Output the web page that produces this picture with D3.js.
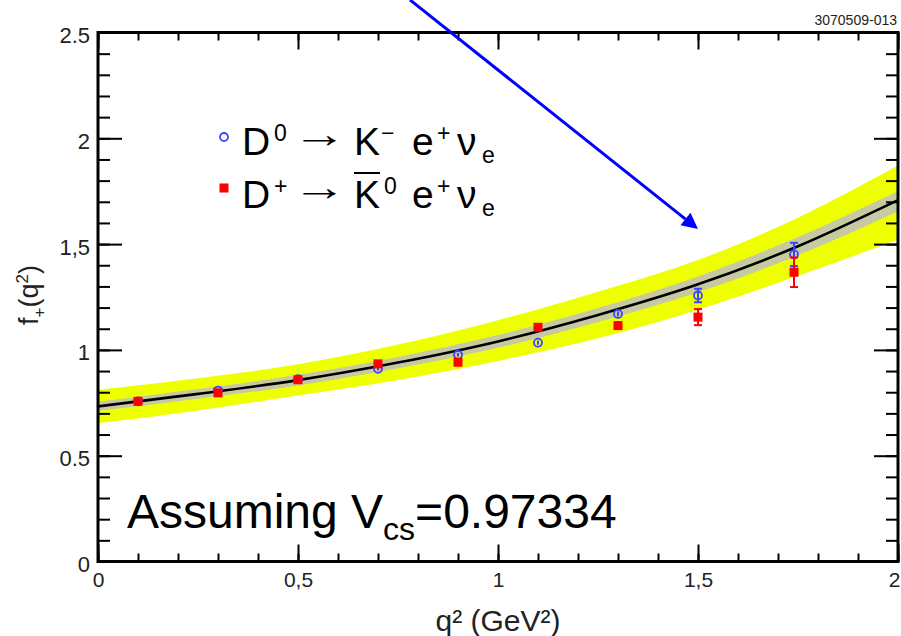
<!DOCTYPE html>
<html><head><meta charset="utf-8">
<script src="https://cdn.jsdelivr.net/npm/d3@7"></script>
<style>
html,body{margin:0;padding:0;background:#fff;}
svg{display:block;font-family:"Liberation Sans",Arial,Helvetica,sans-serif;}
</style></head>
<body>
<svg id="chart" width="901" height="636"></svg>
<script>
// ---- data ----
const qGrid        = [0, 0.25, 0.5, 0.75, 1.0, 1.25, 1.5, 1.75, 2.0];
const fitCentral   = [0.733, 0.792, 0.857, 0.940, 1.040, 1.165, 1.310, 1.490, 1.708];
const yellowUpper  = [0.812, 0.866, 0.932, 1.025, 1.140, 1.275, 1.425, 1.625, 1.871];
const yellowLower  = [0.653, 0.714, 0.785, 0.858, 0.948, 1.055, 1.190, 1.350, 1.520];
const grayUpper    = [0.755, 0.815, 0.882, 0.967, 1.070, 1.198, 1.347, 1.533, 1.750];
const grayLower    = [0.711, 0.769, 0.832, 0.913, 1.010, 1.132, 1.273, 1.447, 1.655];

const qPoints  = [0.1, 0.3, 0.5, 0.7, 0.9, 1.1, 1.3, 1.5, 1.74];
const d0Values = [0.757, 0.808, 0.862, 0.911, 0.977, 1.034, 1.170, 1.257, 1.451];
const d0Errors = [0.005, 0.005, 0.005, 0.007, 0.008, 0.010, 0.012, 0.032, 0.055];
const dpValues = [0.757, 0.797, 0.859, 0.934, 0.942, 1.107, 1.115, 1.155, 1.367];
const dpErrors = [0.005, 0.006, 0.006, 0.008, 0.009, 0.012, 0.020, 0.038, 0.070];

const xMajorTicks  = [0, 0.5, 1, 1.5, 2];
const xTickLabels  = ["0", "0,5", "1", "1,5", "2"];
const yMajorTicks  = [0, 0.5, 1, 1.5, 2, 2.5];
const yTickLabels  = ["0", "0.5", "1", "1,5", "2", "2.5"];

// annotation arrow (data coords)
const arrowStart = [0.78, 2.654];
const arrowTip   = [1.5, 1.571];

// ---- drawing ----
const svg = d3.select("#chart");
const L = 98, R = 898, T = 32.5, B = 561.5;
const x = d3.scaleLinear().domain([0, 2]).range([L, R]);
const y = d3.scaleLinear().domain([0, 2.5]).range([B, T]);

const band = qGrid.map((q, i) => ({q, c: fitCentral[i], yu: yellowUpper[i], yl: yellowLower[i], gu: grayUpper[i], gl: grayLower[i]}));
const curve = d3.curveMonotoneX;

svg.append("clipPath").attr("id", "clip").append("rect")
  .attr("x", L).attr("y", T).attr("width", R - L).attr("height", B - T);
const plot = svg.append("g").attr("clip-path", "url(#clip)");

plot.append("path").datum(band)
  .attr("d", d3.area().x(d => x(d.q)).y0(d => y(d.yl)).y1(d => y(d.yu)).curve(curve))
  .attr("fill", "#eeff00");
plot.append("path").datum(band)
  .attr("d", d3.area().x(d => x(d.q)).y0(d => y(d.gl)).y1(d => y(d.gu)).curve(curve))
  .attr("fill", "#c6c9a2");
plot.append("path").datum(band)
  .attr("d", d3.line().x(d => x(d.q)).y(d => y(d.c)).curve(curve))
  .attr("fill", "none").attr("stroke", "#000").attr("stroke-width", 2.6);

// data points
const d0 = qPoints.map((q, i) => ({q, v: d0Values[i], e: d0Errors[i]}));
const dp = qPoints.map((q, i) => ({q, v: dpValues[i], e: dpErrors[i]}));

function errorBars(data, color) {
  const g = svg.append("g").attr("stroke", color).attr("stroke-width", 2);
  g.selectAll("line.v").data(data).join("line")
    .attr("x1", d => x(d.q)).attr("x2", d => x(d.q))
    .attr("y1", d => y(d.v - d.e)).attr("y2", d => y(d.v + d.e));
  g.selectAll("line.t").data(data.filter(d => d.e > 0.02)).join("line")
    .attr("x1", d => x(d.q) - 4).attr("x2", d => x(d.q) + 4)
    .attr("y1", d => y(d.v + d.e)).attr("y2", d => y(d.v + d.e));
  g.selectAll("line.b").data(data.filter(d => d.e > 0.02)).join("line")
    .attr("x1", d => x(d.q) - 4).attr("x2", d => x(d.q) + 4)
    .attr("y1", d => y(d.v - d.e)).attr("y2", d => y(d.v - d.e));
}
errorBars(d0, "#3c46ff");
svg.append("g").selectAll("circle").data(d0).join("circle")
  .attr("cx", d => x(d.q)).attr("cy", d => y(d.v)).attr("r", 4)
  .attr("fill", "none").attr("stroke", "#3c46ff").attr("stroke-width", 1.8);
errorBars(dp, "#ff0000");
svg.append("g").selectAll("rect").data(dp).join("rect")
  .attr("x", d => x(d.q) - 4.5).attr("y", d => y(d.v) - 4.5)
  .attr("width", 9).attr("height", 9).attr("fill", "#ff0000");

// axes (ticks inside on all four sides)
const xMinor = d3.range(0, 21).map(i => i / 10);
const yMinor = d3.range(0, 26).map(i => i / 10);
function styleAxis(g) {
  g.select(".domain").remove();
  g.selectAll(".tick line").attr("stroke", "#000").attr("stroke-width", 2);
}
svg.append("g").attr("transform", `translate(0,${B})`)
  .call(d3.axisTop(x).tickValues(xMinor).tickSize(8).tickFormat("")).call(styleAxis);
svg.append("g").attr("transform", `translate(0,${B})`)
  .call(d3.axisTop(x).tickValues(xMajorTicks).tickSize(17).tickFormat("")).call(styleAxis);
svg.append("g").attr("transform", `translate(0,${T})`)
  .call(d3.axisBottom(x).tickValues(xMinor).tickSize(8).tickFormat("")).call(styleAxis);
svg.append("g").attr("transform", `translate(0,${T})`)
  .call(d3.axisBottom(x).tickValues(xMajorTicks).tickSize(17).tickFormat("")).call(styleAxis);
svg.append("g").attr("transform", `translate(${L},0)`)
  .call(d3.axisRight(y).tickValues(yMinor).tickSize(12).tickFormat("")).call(styleAxis);
svg.append("g").attr("transform", `translate(${L},0)`)
  .call(d3.axisRight(y).tickValues(yMajorTicks).tickSize(24).tickFormat("")).call(styleAxis);
svg.append("g").attr("transform", `translate(${R},0)`)
  .call(d3.axisLeft(y).tickValues(yMinor).tickSize(12).tickFormat("")).call(styleAxis);
svg.append("g").attr("transform", `translate(${R},0)`)
  .call(d3.axisLeft(y).tickValues(yMajorTicks).tickSize(24).tickFormat("")).call(styleAxis);

// tick labels
svg.append("g").attr("transform", `translate(0,${B})`)
  .call(d3.axisBottom(x).tickValues(xMajorTicks).tickSize(0).tickPadding(0)
    .tickFormat((d, i) => xTickLabels[i]))
  .call(g => {
    g.select(".domain").remove();
    g.selectAll("text").attr("font-size", 21).attr("fill", "#222")
      .attr("font-family", "Liberation Sans, Arial, sans-serif")
      .attr("dy", null).attr("y", 25)
      .attr("dx", (d, i) => i === xMajorTicks.length - 1 ? -4 : 0);
  });
svg.append("g").attr("transform", `translate(90,0)`)
  .call(d3.axisLeft(y).tickValues(yMajorTicks).tickSize(0).tickPadding(0)
    .tickFormat((d, i) => yTickLabels[i]))
  .call(g => {
    g.select(".domain").remove();
    g.selectAll("text").attr("font-size", 22).attr("fill", "#222")
      .attr("font-family", "Liberation Sans, Arial, sans-serif")
      .attr("dy", null).attr("y", 10);
  });

// frame
svg.append("rect").attr("x", L).attr("y", T).attr("width", R - L).attr("height", B - T)
  .attr("fill", "none").attr("stroke", "#000").attr("stroke-width", 3);

// axis titles
const xt = svg.append("text").attr("x", (L + R) / 2).attr("y", 631)
  .attr("text-anchor", "middle").attr("font-size", 30).attr("fill", "#222");
xt.text("q² (GeV²)");
const yt = svg.append("text").attr("transform", "translate(38,295) rotate(-90)")
  .attr("text-anchor", "middle").attr("font-size", 27).attr("fill", "#222");
yt.append("tspan").text("f");
yt.append("tspan").attr("font-size", 17).attr("dy", 7).text("+");
yt.append("tspan").attr("dy", -7).text("(q");
yt.append("tspan").attr("font-size", 17).attr("dy", -10).text("2");
yt.append("tspan").attr("dy", 10).text(")");

// id label
svg.append("text").attr("x", 897).attr("y", 25).attr("text-anchor", "end")
  .attr("font-size", 14).attr("fill", "#222").text("3070509-013");

// legend
svg.append("circle").attr("cx", 224).attr("cy", 137).attr("r", 4)
  .attr("fill", "none").attr("stroke", "#3c46ff").attr("stroke-width", 1.8);
svg.append("rect").attr("x", 219.5).attr("y", 183.5).attr("width", 9).attr("height", 9)
  .attr("fill", "#ff0000");

// ink extent of the arrow glyph (via canvas measureText)
const arrowFontFamily = '"Liberation Sans", Arial, Helvetica, sans-serif';
const mctx = document.createElement("canvas").getContext("2d");
mctx.font = `39px ${arrowFontFamily}`;
const am = mctx.measureText("→");
const inkL = -am.actualBoundingBoxLeft, inkR = am.actualBoundingBoxRight;
const inkT = -am.actualBoundingBoxAscent, inkB = am.actualBoundingBoxDescent;

function legendLine(baseY, parts) {
  const t = svg.append("text").attr("y", baseY).attr("font-size", 39).attr("fill", "#000");
  parts.forEach(p => {
    const s = t.append("tspan").attr("x", p.x).attr("y", baseY + (p.dy || 0)).text(p.t);
    if (p.fs) s.attr("font-size", p.fs);
    if (p.id) s.attr("id", p.id);
  });
  // long thin reaction arrow, fitted to the span between "D" and "K"
  const targetX0 = 302, targetW = 35, targetCY = baseY - 14;
  const w = (inkR - inkL) > 1 ? (inkR - inkL) : 20;
  const s = targetW / w;
  const cy = (inkT + inkB) / 2;
  svg.append("text").attr("font-size", 39).attr("fill", "#000")
    .style("font-family", arrowFontFamily)
    .attr("transform", `translate(${targetX0 - inkL * s},${targetCY - cy}) scale(${s},1)`)
    .text("→");
  return t;
}
legendLine(155, [
  {x: 242, t: "D"}, {x: 274, t: "0", fs: 23, dy: -14},
  {x: 354, t: "K"}, {x: 381, t: "−", fs: 23, dy: -14},
  {x: 412, t: "e"}, {x: 437, t: "+", fs: 23, dy: -14},
  {x: 457, t: "ν"}, {x: 482, t: "e", fs: 23, dy: 8}
]);
legendLine(208, [
  {x: 242, t: "D"}, {x: 274, t: "+", fs: 23, dy: -14},
  {x: 354, t: "K", id: "kbar"}, {x: 384, t: "0", fs: 23, dy: -14},
  {x: 412, t: "e"}, {x: 437, t: "+", fs: 23, dy: -14},
  {x: 457, t: "ν"}, {x: 482, t: "e", fs: 23, dy: 8}
]);
const kw = document.getElementById("kbar").getComputedTextLength();
svg.append("line").attr("x1", 354).attr("x2", 354 + kw).attr("y1", 173).attr("y2", 173)
  .attr("stroke", "#000").attr("stroke-width", 2);

// Assuming text
const at = svg.append("text").attr("x", 127).attr("y", 528).attr("font-size", 48).attr("fill", "#000");
at.append("tspan").text("Assuming V");
at.append("tspan").attr("font-size", 32).attr("dy", 12).text("cs");
at.append("tspan").attr("dy", -12).text("=0.97334");

// arrow annotation
const sx = x(arrowStart[0]), sy = y(arrowStart[1]);
const tx = x(arrowTip[0]), ty = y(arrowTip[1]);
const ang = Math.atan2(ty - sy, tx - sx);
const hl = 16, hw = 8;
const bx = tx - hl * Math.cos(ang), by = ty - hl * Math.sin(ang);
svg.append("line").attr("x1", sx).attr("y1", sy).attr("x2", bx).attr("y2", by)
  .attr("stroke", "#0000ff").attr("stroke-width", 3);
svg.append("polygon")
  .attr("points", [
    [tx, ty],
    [bx + hw * Math.sin(ang), by - hw * Math.cos(ang)],
    [bx - hw * Math.sin(ang), by + hw * Math.cos(ang)]
  ].map(p => p.join(",")).join(" "))
  .attr("fill", "#0000ff");
</script>
</body></html>
